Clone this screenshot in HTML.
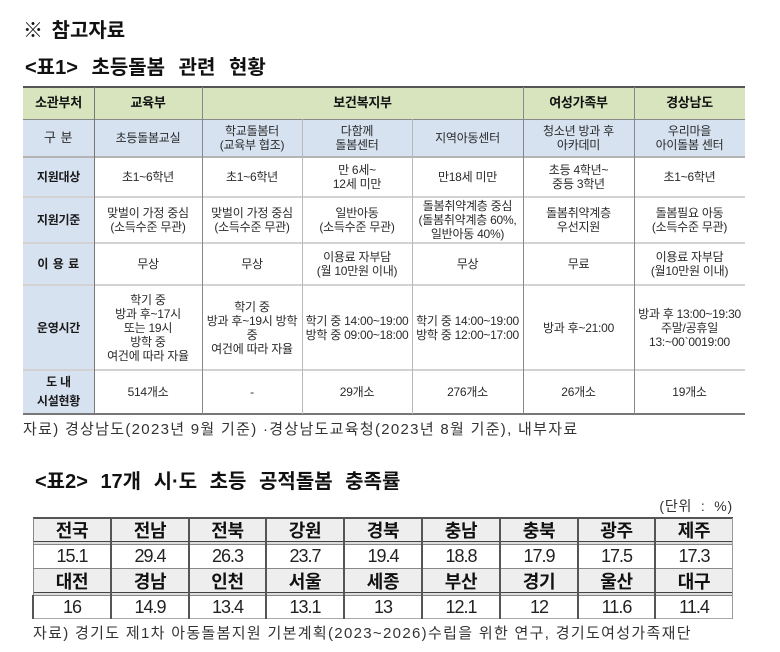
<!DOCTYPE html>
<html><head><meta charset="utf-8">
<style>
html,body{margin:0;padding:0;background:#fff;}
body{width:780px;height:652px;position:relative;overflow:hidden;font-family:"Liberation Sans","Noto Sans CJK KR",sans-serif;color:#222;}
.a{position:absolute;white-space:nowrap;}
.t{font-weight:bold;font-size:20px;line-height:20px;color:#111;word-spacing:3px;}
.c{position:absolute;display:flex;align-items:center;justify-content:center;text-align:center;font-size:12px;line-height:14px;letter-spacing:-0.25px;color:#2a2a2a;white-space:nowrap;}
.b{font-weight:bold;color:#1a1a1a;}
.hd{font-size:13px;font-weight:bold;color:#111;}
.l{position:absolute;}
.c2{position:absolute;display:flex;align-items:center;justify-content:center;text-align:center;white-space:nowrap;}
.h2{font-size:18px;font-weight:bold;letter-spacing:-0.3px;color:#111;}
.v2{font-size:18px;letter-spacing:-1px;color:#222;}
.fn{font-size:15px;line-height:16px;color:#333;}
</style></head><body>

<div class="a t" style="left:23px;top:21px;">※ 참고자료</div>
<div class="a t" style="left:25px;top:58px;word-spacing:8px;">&lt;표1&gt; 초등돌봄 관련 현황</div>

<!-- Table 1 backgrounds -->
<div class="l" style="left:23px;top:87px;width:722px;height:32px;background:#d7e4bd;"></div>
<div class="l" style="left:23px;top:119px;width:722px;height:38px;background:#d6e2f0;"></div>
<div class="l" style="left:23px;top:157px;width:71px;height:257px;background:#d6e2f0;"></div>

<!-- Table 1 horizontal lines -->
<div class="l" style="left:23px;top:86px;width:722px;height:2px;background:#555;"></div>
<div class="l" style="left:23px;top:119px;width:722px;height:1px;background:#8a8a8a;"></div>
<div class="l" style="left:23px;top:156px;width:722px;height:2px;background:#b4b4b4;"></div>
<div class="l" style="left:23px;top:196px;width:722px;height:2px;background:#d2d2d2;"></div>
<div class="l" style="left:23px;top:242px;width:722px;height:2px;background:#d2d2d2;"></div>
<div class="l" style="left:23px;top:284px;width:722px;height:2px;background:#d2d2d2;"></div>
<div class="l" style="left:23px;top:369px;width:722px;height:2px;background:#d2d2d2;"></div>
<div class="l" style="left:23px;top:413px;width:722px;height:2px;background:#777;"></div>

<!-- Table 1 vertical lines -->
<div class="l" style="left:94px;top:87px;width:1px;height:327px;background:#777;"></div>
<div class="l" style="left:202px;top:87px;width:1px;height:327px;background:#888;"></div>
<div class="l" style="left:302px;top:119px;width:1px;height:295px;background:#b8b8b8;"></div>
<div class="l" style="left:412px;top:119px;width:1px;height:295px;background:#b8b8b8;"></div>
<div class="l" style="left:523px;top:87px;width:1px;height:327px;background:#888;"></div>
<div class="l" style="left:634px;top:87px;width:1px;height:327px;background:#888;"></div>

<!-- Header row -->
<div class="c hd" style="left:23px;top:87px;width:71px;height:32px;">소관부처</div>
<div class="c hd" style="left:94px;top:87px;width:108px;height:32px;">교육부</div>
<div class="c hd" style="left:202px;top:87px;width:321px;height:32px;">보건복지부</div>
<div class="c hd" style="left:523px;top:87px;width:111px;height:32px;">여성가족부</div>
<div class="c hd" style="left:634px;top:87px;width:111px;height:32px;">경상남도</div>

<!-- 구분 row -->
<div class="c" style="left:23px;top:119px;width:71px;height:38px;font-size:13px;letter-spacing:0.5px;">구 분</div>
<div class="c" style="left:94px;top:119px;width:108px;height:38px;">초등돌봄교실</div>
<div class="c" style="left:202px;top:119px;width:100px;height:38px;">학교돌봄터<br>(교육부 협조)</div>
<div class="c" style="left:302px;top:119px;width:110px;height:38px;">다함께<br>돌봄센터</div>
<div class="c" style="left:412px;top:119px;width:111px;height:38px;">지역아동센터</div>
<div class="c" style="left:523px;top:119px;width:111px;height:38px;">청소년 방과 후<br>아카데미</div>
<div class="c" style="left:634px;top:119px;width:111px;height:38px;">우리마을<br>아이돌봄 센터</div>

<!-- 지원대상 row -->
<div class="c b" style="left:23px;top:157px;width:71px;height:40px;">지원대상</div>
<div class="c" style="left:94px;top:157px;width:108px;height:40px;">초1~6학년</div>
<div class="c" style="left:202px;top:157px;width:100px;height:40px;">초1~6학년</div>
<div class="c" style="left:302px;top:157px;width:110px;height:40px;">만 6세~<br>12세 미만</div>
<div class="c" style="left:412px;top:157px;width:111px;height:40px;">만18세 미만</div>
<div class="c" style="left:523px;top:157px;width:111px;height:40px;">초등 4학년~<br>중등 3학년</div>
<div class="c" style="left:634px;top:157px;width:111px;height:40px;">초1~6학년</div>

<!-- 지원기준 row -->
<div class="c b" style="left:23px;top:197px;width:71px;height:46px;">지원기준</div>
<div class="c" style="left:94px;top:197px;width:108px;height:46px;">맞벌이 가정 중심<br>(소득수준 무관)</div>
<div class="c" style="left:202px;top:197px;width:100px;height:46px;">맞벌이 가정 중심<br>(소득수준 무관)</div>
<div class="c" style="left:302px;top:197px;width:110px;height:46px;">일반아동<br>(소득수준 무관)</div>
<div class="c" style="left:412px;top:197px;width:111px;height:46px;">돌봄취약계층 중심<br>(돌봄취약계층 60%,<br>일반아동 40%)</div>
<div class="c" style="left:523px;top:197px;width:111px;height:46px;">돌봄취약계층<br>우선지원</div>
<div class="c" style="left:634px;top:197px;width:111px;height:46px;">돌봄필요 아동<br>(소득수준 무관)</div>

<!-- 이용료 row -->
<div class="c b" style="left:23px;top:243px;width:71px;height:42px;letter-spacing:0.5px;">이 용 료</div>
<div class="c" style="left:94px;top:243px;width:108px;height:42px;">무상</div>
<div class="c" style="left:202px;top:243px;width:100px;height:42px;">무상</div>
<div class="c" style="left:302px;top:243px;width:110px;height:42px;">이용료 자부담<br>(월 10만원 이내)</div>
<div class="c" style="left:412px;top:243px;width:111px;height:42px;">무상</div>
<div class="c" style="left:523px;top:243px;width:111px;height:42px;">무료</div>
<div class="c" style="left:634px;top:243px;width:111px;height:42px;">이용료 자부담<br>(월10만원 이내)</div>

<!-- 운영시간 row -->
<div class="c b" style="left:23px;top:285px;width:71px;height:85px;">운영시간</div>
<div class="c" style="left:94px;top:285px;width:108px;height:85px;">학기 중<br>방과 후~17시<br>또는 19시<br>방학 중<br>여건에 따라 자율</div>
<div class="c" style="left:202px;top:285px;width:100px;height:85px;">학기 중<br>방과 후~19시 방학<br>중<br>여건에 따라 자율</div>
<div class="c" style="left:302px;top:285px;width:110px;height:85px;">학기 중 14:00~19:00<br>방학 중 09:00~18:00</div>
<div class="c" style="left:412px;top:285px;width:111px;height:85px;">학기 중 14:00~19:00<br>방학 중 12:00~17:00</div>
<div class="c" style="left:523px;top:285px;width:111px;height:85px;">방과 후~21:00</div>
<div class="c" style="left:634px;top:285px;width:111px;height:85px;">방과 후 13:00~19:30<br>주말/공휴일<br>13:~00`0019:00</div>

<!-- 시설현황 row -->
<div class="c b" style="left:23px;top:370px;width:71px;height:44px;line-height:19px;">도 내<br>시설현황</div>
<div class="c" style="left:94px;top:370px;width:108px;height:44px;">514개소</div>
<div class="c" style="left:202px;top:370px;width:100px;height:44px;">-</div>
<div class="c" style="left:302px;top:370px;width:110px;height:44px;">29개소</div>
<div class="c" style="left:412px;top:370px;width:111px;height:44px;">276개소</div>
<div class="c" style="left:523px;top:370px;width:111px;height:44px;">26개소</div>
<div class="c" style="left:634px;top:370px;width:111px;height:44px;">19개소</div>

<div class="a fn" style="left:23px;top:422px;letter-spacing:1.3px;">자료) 경상남도(2023년 9월 기준) ·경상남도교육청(2023년 8월 기준), 내부자료</div>

<!-- Table 2 -->
<div class="a t" style="left:35px;top:472px;word-spacing:7px;">&lt;표2&gt; 17개 시·도 초등 공적돌봄 충족률</div>
<div class="a fn" style="right:47px;top:498px;font-size:14px;word-spacing:4px;letter-spacing:0.8px;">(단위 : %)</div>

<div class="l" style="left:33px;top:518px;width:700px;height:23px;background:#eeeeee;"></div>
<div class="l" style="left:33px;top:568px;width:700px;height:24px;background:#eeeeee;"></div>

<div class="l" style="left:33px;top:517px;width:700px;height:2px;background:#555;"></div>
<div class="l" style="left:33px;top:541px;width:700px;height:1px;background:#444;"></div>
<div class="l" style="left:33px;top:542px;width:700px;height:2px;background:#ddd;"></div>
<div class="l" style="left:33px;top:544px;width:700px;height:1px;background:#888;"></div>
<div class="l" style="left:33px;top:568px;width:700px;height:1px;background:#888;"></div>
<div class="l" style="left:33px;top:592px;width:700px;height:1px;background:#444;"></div>
<div class="l" style="left:33px;top:593px;width:700px;height:2px;background:#ddd;"></div>
<div class="l" style="left:33px;top:595px;width:700px;height:1px;background:#888;"></div>
<div class="l" style="left:33px;top:618px;width:700px;height:1px;background:#aaa;"></div>

<div class="l" style="left:33px;top:518px;width:1px;height:77px;background:#888;"></div>
<div class="l" style="left:32px;top:595px;width:2px;height:24px;background:#555;"></div>
<div class="l" style="left:110px;top:518px;width:2px;height:101px;background:#555;"></div>
<div class="l" style="left:188px;top:518px;width:2px;height:101px;background:#555;"></div>
<div class="l" style="left:265px;top:518px;width:2px;height:101px;background:#555;"></div>
<div class="l" style="left:343px;top:518px;width:2px;height:101px;background:#555;"></div>
<div class="l" style="left:421px;top:518px;width:2px;height:101px;background:#555;"></div>
<div class="l" style="left:499px;top:518px;width:2px;height:101px;background:#555;"></div>
<div class="l" style="left:577px;top:518px;width:2px;height:101px;background:#555;"></div>
<div class="l" style="left:654px;top:518px;width:2px;height:101px;background:#555;"></div>
<div class="l" style="left:732px;top:518px;width:1px;height:101px;background:#999;"></div>

<!-- row 1 headers -->
<div class="c2 h2" style="left:33px;top:518px;width:78px;height:24px;">전국</div>
<div class="c2 h2" style="left:111px;top:518px;width:78px;height:24px;">전남</div>
<div class="c2 h2" style="left:189px;top:518px;width:77px;height:24px;">전북</div>
<div class="c2 h2" style="left:266px;top:518px;width:78px;height:24px;">강원</div>
<div class="c2 h2" style="left:344px;top:518px;width:78px;height:24px;">경북</div>
<div class="c2 h2" style="left:422px;top:518px;width:78px;height:24px;">충남</div>
<div class="c2 h2" style="left:500px;top:518px;width:78px;height:24px;">충북</div>
<div class="c2 h2" style="left:578px;top:518px;width:77px;height:24px;">광주</div>
<div class="c2 h2" style="left:655px;top:518px;width:78px;height:24px;">제주</div>
<!-- row 1 values -->
<div class="c2 v2" style="left:33px;top:545px;width:78px;height:23px;">15.1</div>
<div class="c2 v2" style="left:111px;top:545px;width:78px;height:23px;">29.4</div>
<div class="c2 v2" style="left:189px;top:545px;width:77px;height:23px;">26.3</div>
<div class="c2 v2" style="left:266px;top:545px;width:78px;height:23px;">23.7</div>
<div class="c2 v2" style="left:344px;top:545px;width:78px;height:23px;">19.4</div>
<div class="c2 v2" style="left:422px;top:545px;width:78px;height:23px;">18.8</div>
<div class="c2 v2" style="left:500px;top:545px;width:78px;height:23px;">17.9</div>
<div class="c2 v2" style="left:578px;top:545px;width:77px;height:23px;">17.5</div>
<div class="c2 v2" style="left:655px;top:545px;width:78px;height:23px;">17.3</div>
<!-- row 2 headers -->
<div class="c2 h2" style="left:33px;top:569px;width:78px;height:24px;">대전</div>
<div class="c2 h2" style="left:111px;top:569px;width:78px;height:24px;">경남</div>
<div class="c2 h2" style="left:189px;top:569px;width:77px;height:24px;">인천</div>
<div class="c2 h2" style="left:266px;top:569px;width:78px;height:24px;">서울</div>
<div class="c2 h2" style="left:344px;top:569px;width:78px;height:24px;">세종</div>
<div class="c2 h2" style="left:422px;top:569px;width:78px;height:24px;">부산</div>
<div class="c2 h2" style="left:500px;top:569px;width:78px;height:24px;">경기</div>
<div class="c2 h2" style="left:578px;top:569px;width:77px;height:24px;">울산</div>
<div class="c2 h2" style="left:655px;top:569px;width:78px;height:24px;">대구</div>
<!-- row 2 values -->
<div class="c2 v2" style="left:33px;top:596px;width:78px;height:22px;">16</div>
<div class="c2 v2" style="left:111px;top:596px;width:78px;height:22px;">14.9</div>
<div class="c2 v2" style="left:189px;top:596px;width:77px;height:22px;">13.4</div>
<div class="c2 v2" style="left:266px;top:596px;width:78px;height:22px;">13.1</div>
<div class="c2 v2" style="left:344px;top:596px;width:78px;height:22px;">13</div>
<div class="c2 v2" style="left:422px;top:596px;width:78px;height:22px;">12.1</div>
<div class="c2 v2" style="left:500px;top:596px;width:78px;height:22px;">12</div>
<div class="c2 v2" style="left:578px;top:596px;width:77px;height:22px;">11.6</div>
<div class="c2 v2" style="left:655px;top:596px;width:78px;height:22px;">11.4</div>

<div class="a fn" style="left:33px;top:626px;letter-spacing:1.32px;">자료) 경기도 제1차 아동돌봄지원 기본계획(2023~2026)수립을 위한 연구, 경기도여성가족재단</div>

</body></html>
